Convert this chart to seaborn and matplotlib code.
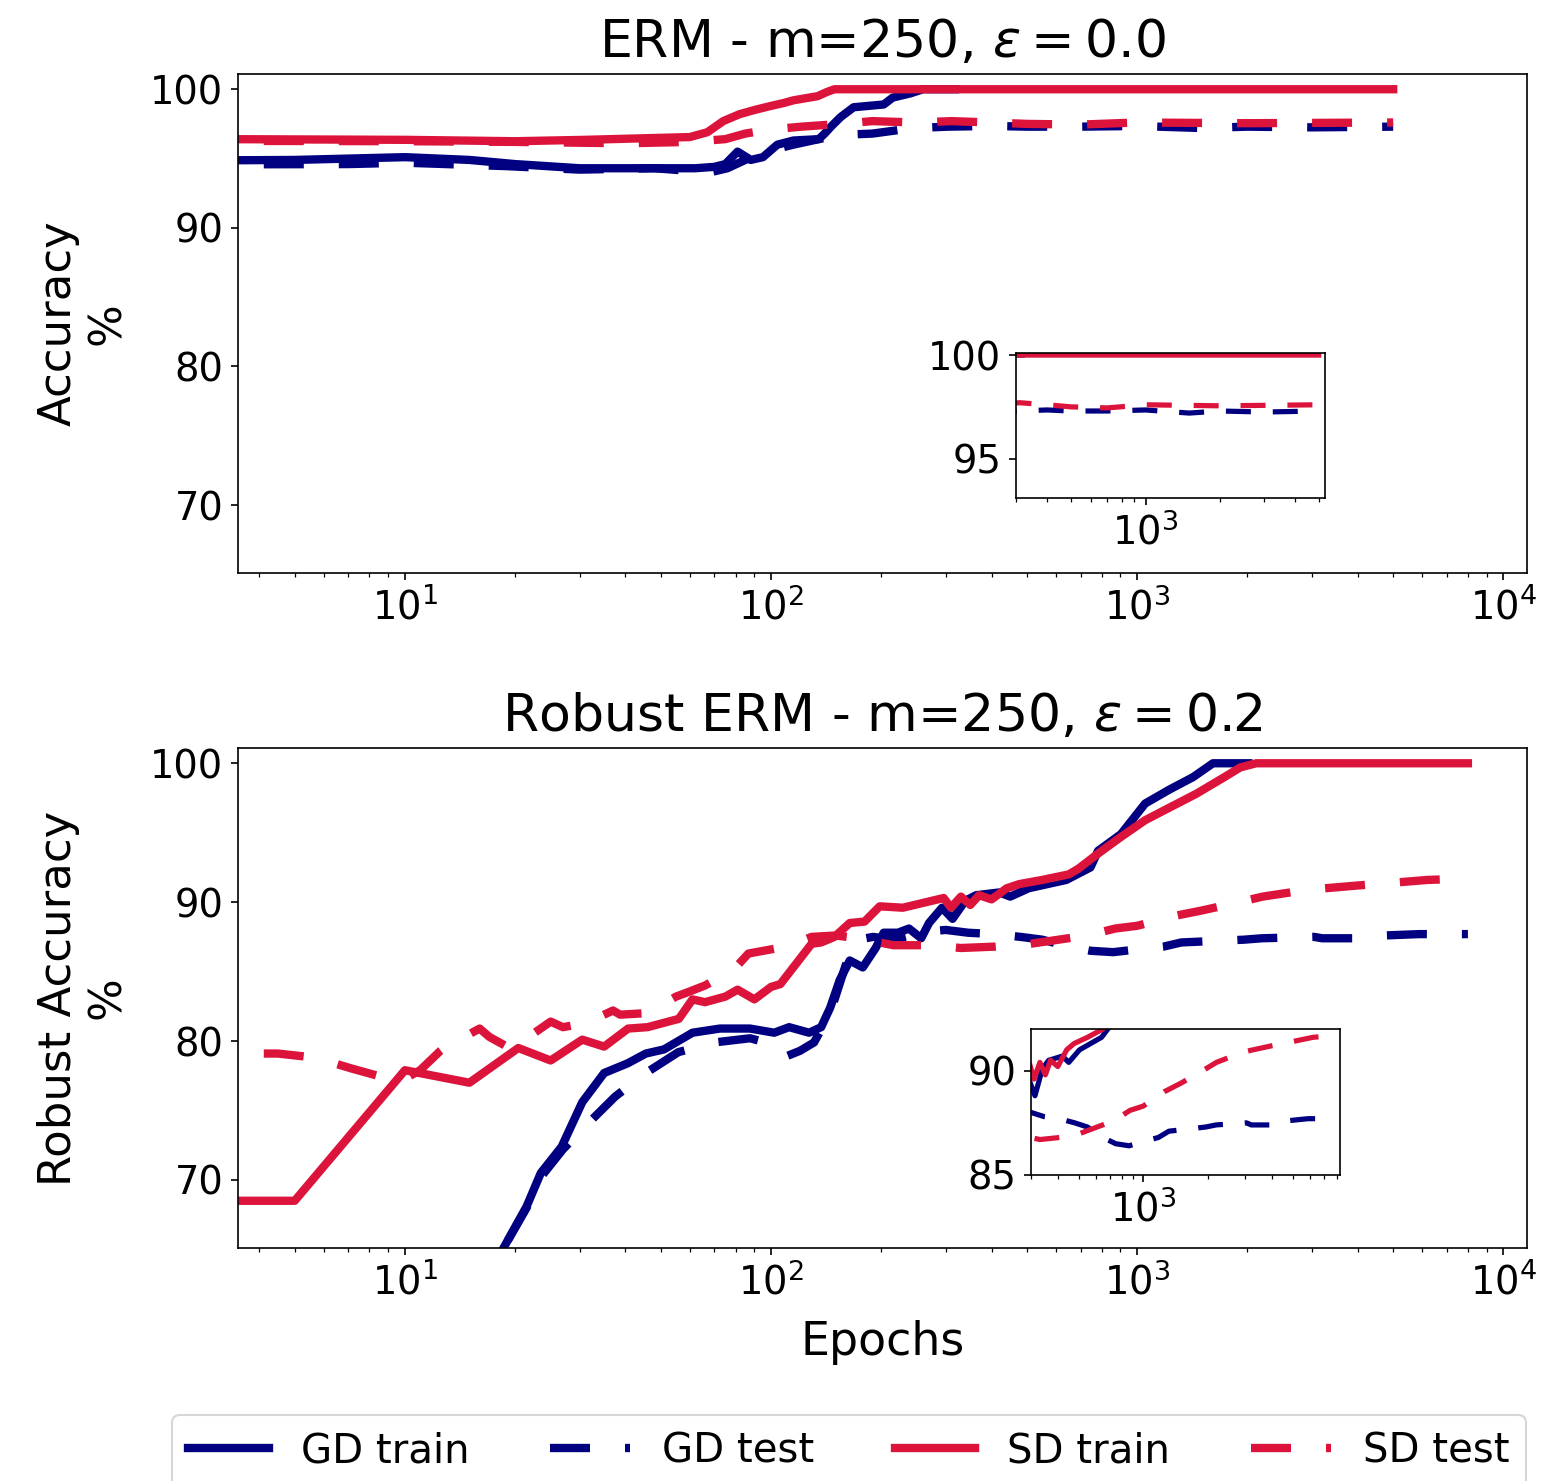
import numpy as np
import pandas as pd
import matplotlib
matplotlib.use("Agg")
import matplotlib.pyplot as plt
from matplotlib.ticker import NullFormatter
import seaborn as sns

# ---------------- data ----------------
# Top panel: ERM, m=250, eps=0.0
erm_gd_train_x = [1, 5, 10, 15, 20, 30, 45, 62, 70, 75, 81, 88, 95, 104, 115, 135, 140, 147, 155, 168, 203, 215, 240, 260, 318]
erm_gd_train_y = [94.8, 94.9, 95.1, 94.9, 94.6, 94.3, 94.3, 94.3, 94.4, 94.6, 95.5, 94.9, 95.1, 96.0, 96.3, 96.4, 96.8, 97.4, 98.0, 98.7, 98.9, 99.4, 99.7, 100.0, 100.0]

erm_gd_test_x = [1, 7, 10, 19, 30, 48, 68, 76, 85, 100, 115, 135, 153, 189, 245, 305, 400, 500, 700, 1000, 1500, 2000, 3000, 5000]
erm_gd_test_y = [94.55, 94.6, 94.7, 94.45, 94.2, 94.3, 94.0, 94.3, 94.9, 95.6, 96.0, 96.4, 96.7, 96.8, 97.2, 97.3, 97.35, 97.3, 97.3, 97.35, 97.2, 97.3, 97.25, 97.3]

erm_sd_train_x = [1, 10, 20, 31, 60, 67, 74, 82, 90, 100, 108, 115, 134, 142, 149, 5000]
erm_sd_train_y = [96.45, 96.35, 96.25, 96.35, 96.55, 96.9, 97.7, 98.2, 98.5, 98.8, 99.0, 99.2, 99.5, 99.8, 100.0, 100.0]

erm_sd_test_x = [1, 10, 20, 40, 60, 75, 85, 100, 121, 155, 189, 250, 310, 400, 500, 700, 1000, 2000, 5000]
erm_sd_test_y = [96.3, 96.25, 96.2, 96.1, 96.2, 96.4, 96.8, 97.1, 97.3, 97.5, 97.7, 97.6, 97.7, 97.6, 97.5, 97.45, 97.6, 97.55, 97.6]

# Bottom panel: Robust ERM, m=250, eps=0.2
rob_gd_train_x = [15, 18.5, 21.5, 23.5, 26.8, 30.5, 35, 40.6, 45.5, 51, 61, 72.5, 87.6, 102, 112, 127, 137, 145, 154, 164, 178, 193,
                  203, 222, 238, 257, 270, 293, 313, 339, 363, 420, 450, 505, 640, 745, 782, 903, 1051, 1223, 1420, 1610, 2010]
rob_gd_train_y = [61.0, 65.0, 68.1, 70.5, 72.4, 75.6, 77.7, 78.4, 79.1, 79.4, 80.6, 80.9, 80.9, 80.6, 81.0, 80.6, 81.0, 82.4, 84.4,
                  85.8, 85.3, 86.7, 87.8, 87.8, 88.1, 87.4, 88.5, 89.6, 88.8, 90.1, 90.5, 90.7, 90.4, 91.0, 91.6, 92.5, 93.7,
                  94.9, 97.1, 98.1, 99.0, 100.0, 100.0]

rob_gd_test_x = [15, 18.5, 21.5, 23.5, 27, 32, 37.5, 45.5, 55.8, 70, 87.6, 100, 110, 120, 131, 145, 160, 173, 190, 215, 240, 270,
                 300, 345, 405, 480, 550, 650, 745, 860, 1000, 1180, 1320, 1960, 2190, 3040, 3200, 4300, 4720, 5890, 8000]
rob_gd_test_y = [61.0, 65.0, 68.0, 70.2, 72.2, 74.2, 76.0, 77.7, 79.2, 79.9, 80.2, 79.8, 78.9, 79.3, 79.9, 82.0, 85.5, 87.3,
                 87.5, 87.3, 87.6, 87.9, 88.0, 87.8, 87.7, 87.5, 87.3, 86.8, 86.5, 86.4, 86.6, 86.8, 87.1, 87.3, 87.4, 87.5,
                 87.4, 87.4, 87.6, 87.7, 87.7]

rob_sd_train_x = [1, 5, 10, 15, 20.4, 25, 30.5, 35, 40.7, 46, 56, 61, 66, 75, 81, 90, 100, 106, 129, 137, 149, 164, 180, 198,
                  229, 296, 310, 330, 350, 370, 400, 440, 476, 550, 650, 690, 782, 903, 1051, 1223, 1449, 1729, 1911, 2113, 8000]
rob_sd_train_y = [68.5, 68.5, 77.9, 77.0, 79.5, 78.6, 80.1, 79.6, 80.9, 81.0, 81.6, 83.0, 82.8, 83.2, 83.7, 83.0, 83.9, 84.1,
                  87.0, 87.1, 87.5, 88.5, 88.6, 89.7, 89.6, 90.3, 89.6, 90.4, 89.8, 90.5, 90.2, 91.0, 91.3, 91.6, 92.0,
                  92.4, 93.5, 94.7, 95.9, 96.8, 97.8, 99.0, 99.7, 100.0, 100.0]

rob_sd_test_x = [1, 4.5, 5.7, 7.2, 8.7, 10, 11, 12.5, 13.4, 15, 16, 17, 19, 20.7, 25, 27, 31.3, 35, 37, 38.7, 45, 49.5, 55, 59,
                 66, 72.6, 80, 86.7, 100, 110, 129, 150, 173, 216, 270, 330, 410, 510, 610, 730, 870, 1000, 1070, 1260,
                 1500, 1830, 2200, 2940, 4000, 5000, 6200, 8000]
rob_sd_test_y = [79.1, 79.1, 78.8, 78.0, 77.4, 77.3, 77.9, 79.3, 79.9, 80.5, 80.9, 80.3, 79.6, 79.9, 81.4, 81.0, 81.3, 81.9,
                 82.2, 81.9, 82.0, 82.5, 83.2, 83.5, 84.0, 84.6, 85.3, 86.3, 86.6, 86.8, 87.5, 87.6, 87.4, 86.9, 86.9,
                 86.7, 86.8, 87.0, 87.3, 87.6, 88.1, 88.3, 88.5, 89.0, 89.4, 89.9, 90.4, 90.9, 91.2, 91.4, 91.6, 91.7]

series_labels = ["GD train", "GD test", "SD train", "SD test"]
series_colors = ["#000080", "#000080", "#DC143C", "#DC143C"]
series_dashed = [False, True, False, True]

titles = [r"ERM - m=250, $\varepsilon = 0.0$", r"Robust ERM - m=250, $\varepsilon = 0.2$"]
ylabels = ["Accuracy\n%", "Robust Accuracy\n%"]

panels = [
    [(erm_gd_train_x, erm_gd_train_y), (erm_gd_test_x, erm_gd_test_y),
     (erm_sd_train_x, erm_sd_train_y), (erm_sd_test_x, erm_sd_test_y)],
    [(rob_gd_train_x, rob_gd_train_y), (rob_gd_test_x, rob_gd_test_y),
     (rob_sd_train_x, rob_sd_train_y), (rob_sd_test_x, rob_sd_test_y)],
]

# ---------------- figure ----------------
plt.rcParams["font.family"] = ["DejaVu Sans"]
W, H, DPI = 1553, 1481, 150
fig = plt.figure(figsize=(W / DPI, H / DPI), dpi=DPI)

main_rects = [[0.15325, 0.61310, 0.83000, 0.33694],
              [0.15325, 0.15733, 0.83000, 0.33761]]
inset_rects = [[0.65422, 0.66374, 0.19897, 0.09791],
               [0.66388, 0.20662, 0.19897, 0.09858]]
inset_xlims = [(300, 5300), (300, 8300)]
inset_ylims = [(93.1, 100.1), (85, 92)]
inset_yticks = [[95, 100], [85, 90]]

DASH = (4.8, 4.2)
TICK_FS = 18.5


def draw(ax, data, lw):
    for (xs, ys), lab, col, dashed in zip(data, series_labels, series_colors, series_dashed):
        df = pd.DataFrame({"x": xs, "y": ys})
        n0 = len(ax.lines)
        sns.lineplot(data=df, x="x", y="y", ax=ax, color=col, lw=lw,
                     estimator=None, sort=False, label=lab)
        line = ax.lines[n0]
        if dashed:
            line.set_linestyle((0, DASH))
    if ax.get_legend() is not None:
        ax.get_legend().remove()


handles = None
for i in range(2):
    ax = fig.add_axes(main_rects[i])
    draw(ax, panels[i], 4)
    ax.set_xscale("log")
    ax.set_xlim(3.5, 11600)
    ax.set_ylim(65.1, 101.1)
    ax.set_yticks([70, 80, 90, 100])
    ax.tick_params(labelsize=TICK_FS)
    ax.set_title(titles[i], fontsize=25, pad=8)
    ax.set_ylabel(ylabels[i], fontsize=21.6, labelpad=10)
    ax.set_xlabel("Epochs" if i == 1 else "", fontsize=22, labelpad=8.5)
    if i == 0:
        handles = list(ax.lines[:4])

    axi = fig.add_axes(inset_rects[i])
    draw(axi, panels[i], 2.5)
    axi.set_xscale("log")
    axi.set_xlim(*inset_xlims[i])
    axi.set_ylim(*inset_ylims[i])
    axi.set_yticks(inset_yticks[i])
    axi.xaxis.set_minor_formatter(NullFormatter())
    axi.tick_params(labelsize=TICK_FS)
    axi.set_xlabel("")
    axi.set_ylabel("")

fig.legend(handles, series_labels, loc="upper center", bbox_to_anchor=(0.5467, 0.0446),
           borderaxespad=0.0, ncol=4, fontsize=19.3, handlelength=2.0,
           columnspacing=2.0, frameon=True)

fig.savefig("out.png", dpi=DPI)
